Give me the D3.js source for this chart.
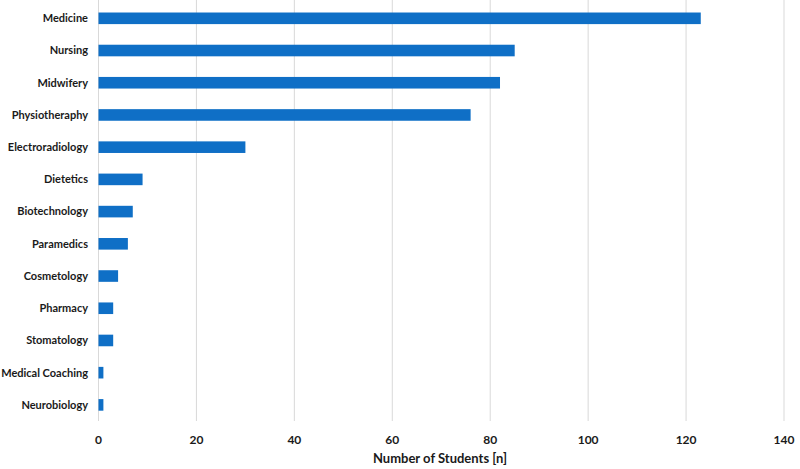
<!DOCTYPE html>
<html><head><meta charset="utf-8">
<script src="https://cdn.jsdelivr.net/npm/d3@7"></script>
<style>body{margin:0;background:#fff}svg{display:block}text{font-family:Lato,"Open Sans",sans-serif;font-weight:bold;fill:#1a1a1a}</style>
</head><body><svg id="c" width="800" height="469"></svg>
<script>
const categories = ["Medicine","Nursing","Midwifery","Physiotheraphy","Electroradiology","Dietetics","Biotechnology","Paramedics","Cosmetology","Pharmacy","Stomatology","Medical Coaching","Neurobiology"];
const values = [123,85,82,76,30,9,7,6,4,3,3,1,1];
const xTicks = [0,20,40,60,80,100,120,140];
const xTitle = "Number of Students [n]";

const svg = d3.select("#c");
const m = {l:98.5, r:16, t:2.2, b:48};
const W = 800, H = 469;
const x = d3.scaleLinear().domain([0,140]).range([m.l, W-m.r]);
const y = d3.scaleBand().domain(categories).range([m.t, H-m.b]).paddingInner(0.64).paddingOuter(0.32);

svg.append("g").selectAll("line").data(xTicks).join("line")
  .attr("x1",d=>x(d)).attr("x2",d=>x(d)).attr("y1",0).attr("y2",H-m.b)
  .attr("stroke","#d9d9d9").attr("stroke-width",1);

svg.append("g").selectAll("rect").data(values).join("rect")
  .attr("x",x(0)).attr("y",(d,i)=>y(categories[i]))
  .attr("width",d=>x(d)-x(0)).attr("height",y.bandwidth())
  .attr("fill","#0F6FC6");

svg.append("g").selectAll("text").data(categories).join("text")
  .attr("x",88).attr("y",d=>y(d)+y.bandwidth()/2).attr("dy","0.35em")
  .attr("text-anchor","end").attr("font-size",11).text(d=>d);

svg.append("g").selectAll("text").data(xTicks).join("text")
  .attr("x",d=>x(d)).attr("y",439.5).attr("dy","0.35em")
  .attr("text-anchor","middle").attr("font-size",12).text(d=>d);

svg.append("text").attr("x",440).attr("y",458).attr("dy","0.35em")
  .attr("text-anchor","middle").attr("font-size",13).text(xTitle);
</script></body></html>
